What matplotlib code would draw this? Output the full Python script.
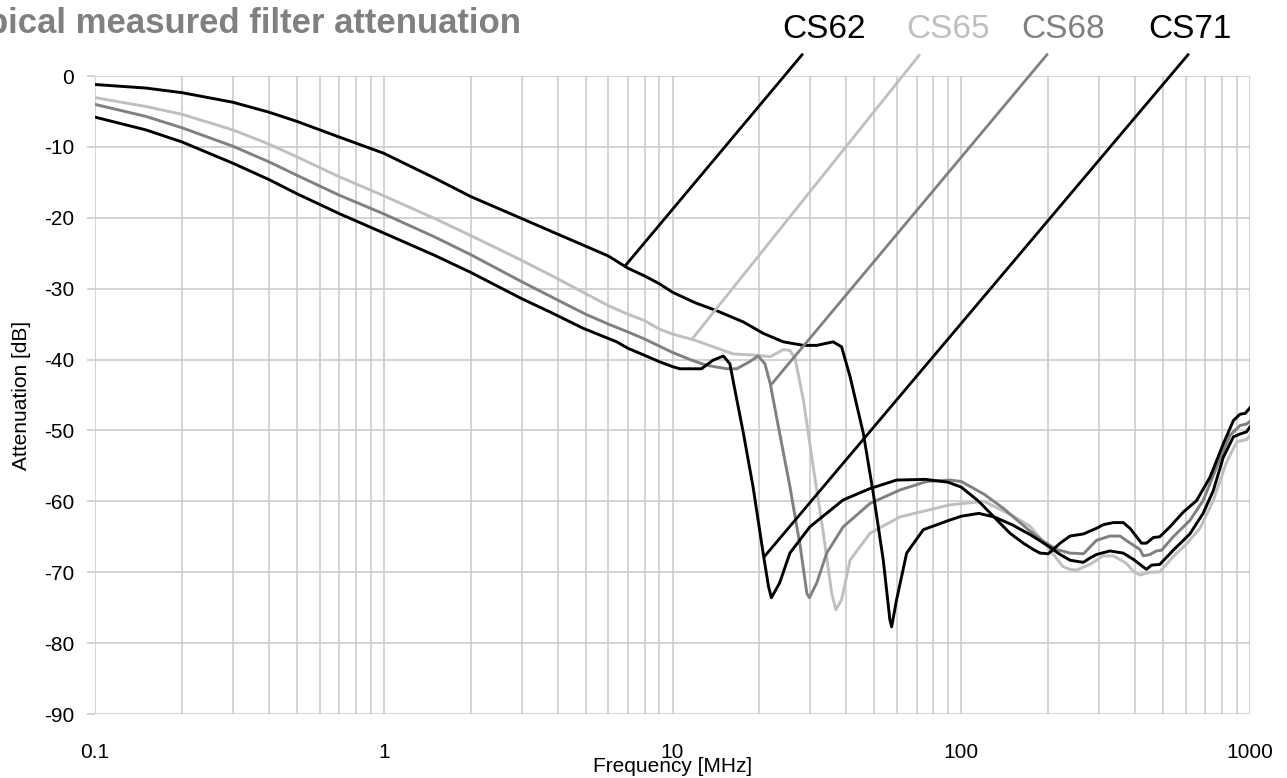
import matplotlib
matplotlib.use("Agg")
import matplotlib.pyplot as plt
from matplotlib.ticker import FixedLocator, FixedFormatter, NullFormatter

plt.rcParams['font.family'] = ['Liberation Sans', 'DejaVu Sans']
plt.rcParams['axes.unicode_minus'] = False

# ---------------- data ----------------
cs62_freq = [0.1, 0.15, 0.2, 0.3, 0.4, 0.5, 0.7, 1, 1.5, 2, 3, 4, 5, 6, 7, 8, 9, 10, 12, 14.2,
             17.6, 20.6, 24.2, 28.4, 31.6, 36, 38.5, 41.2, 45.8, 49.6, 53.7, 56.6, 57.4, 59.7,
             64.7, 73.9, 89, 100, 115, 130, 150, 175, 200, 220, 238, 254, 265, 279, 294, 327,
             364, 395, 438, 456, 487, 542, 619, 688, 746, 808, 876, 924, 973, 1000]
cs62_db = [-1.2, -1.7, -2.35, -3.7, -5.1, -6.4, -8.6, -10.9, -14.4, -17.0, -20.1, -22.3, -24.0,
           -25.4, -27.1, -28.2, -29.3, -30.5, -32.0, -33.1, -34.7, -36.3, -37.5, -38.0, -38.0,
           -37.5, -38.2, -42.4, -50.4, -58.9, -68.3, -76.7, -77.7, -73.9, -67.3, -64.0, -62.8,
           -62.1, -61.7, -62.2, -63.3, -64.8, -66.3, -67.5, -68.3, -68.5, -68.6, -68.0, -67.5,
           -67.0, -67.3, -68.2, -69.6, -69.0, -68.9, -66.9, -64.6, -61.7, -58.5, -53.8, -50.9,
           -50.5, -50.2, -49.5]

cs65_freq = [0.1, 0.15, 0.2, 0.3, 0.4, 0.5, 0.7, 1, 1.5, 2, 3, 4, 5, 6, 7, 8, 9, 10, 12, 16.2,
             19.6, 21.8, 24.2, 25.5, 26.6, 28.4, 30.7, 33.3, 35.6, 36.8, 38.5, 41.2, 48.3, 61.3,
             91.3, 120, 150, 173, 198, 225, 238, 251, 279, 310, 336, 372, 395, 416, 450, 487,
             542, 603, 671, 746, 829, 900, 973, 1000]
cs65_db = [-3.05, -4.3, -5.4, -7.6, -9.6, -11.4, -14.2, -16.9, -20.1, -22.5, -26.0, -28.6, -30.7,
           -32.4, -33.6, -34.5, -35.7, -36.4, -37.3, -39.2, -39.4, -39.6, -38.6, -38.7, -39.9,
           -45.7, -55.1, -64.5, -73.0, -75.3, -73.9, -68.3, -64.5, -62.2, -60.5, -60.0, -62.0,
           -63.5, -66.3, -69.2, -69.6, -69.7, -68.9, -67.7, -67.7, -68.7, -69.9, -70.4, -70.0,
           -69.95, -67.8, -66.0, -63.8, -59.9, -54.5, -51.6, -51.3, -50.7]

cs68_freq = [0.1, 0.15, 0.2, 0.3, 0.4, 0.5, 0.7, 1, 1.5, 2, 3, 4, 5, 6, 7, 8, 9, 10, 11.5, 13.1,
             15.4, 16.7, 18.5, 19.8, 20.9, 21.8, 23.5, 25.5, 27.7, 29.2, 29.8, 31.6, 34.2, 39,
             48.3, 61.3, 75.9, 91.3, 100, 120, 140, 155.6, 173, 192, 214, 238, 265, 294, 327,
             355, 372, 416, 427, 450, 474, 494, 542, 619, 688, 766, 852, 924, 973, 1000]
cs68_db = [-4.0, -5.7, -7.3, -9.9, -12.1, -14.0, -16.8, -19.45, -22.7, -25.2, -29.0, -31.6,
           -33.6, -35.0, -36.1, -37.1, -38.1, -39.0, -40.0, -40.8, -41.3, -41.3, -40.3, -39.5,
           -40.6, -43.4, -50.4, -57.9, -66.4, -73.0, -73.6, -71.5, -67.3, -63.6, -60.3, -58.4,
           -57.2, -57.0, -57.2, -59.0, -61.0, -62.6, -64.2, -65.6, -66.8, -67.3, -67.4, -65.5,
           -64.9, -64.9, -65.5, -66.8, -67.7, -67.5, -67.0, -66.9, -65.0, -62.7, -59.9, -55.2,
           -50.7, -49.3, -49.1, -48.7]

cs71_freq = [0.1, 0.15, 0.2, 0.3, 0.4, 0.5, 0.7, 1, 1.5, 2, 3, 3.77, 4.91, 6.41, 7, 8, 9, 10,
             10.6, 12.6, 13.8, 15.0, 15.8, 16.2, 17.6, 19.0, 20.6, 21.5, 22.0, 23.5, 25.5, 29.9,
             39, 48.3, 59.7, 75, 90, 100, 115, 132.7, 147.5, 164, 177.7, 187.4, 200, 208, 220,
             238, 265, 294, 310, 336, 364, 384, 421, 438, 463, 487, 528, 588, 653, 727, 808,
             876, 924, 962, 1000]
cs71_db = [-5.8, -7.6, -9.3, -12.3, -14.6, -16.6, -19.4, -22.15, -25.3, -27.7, -31.4, -33.3,
           -35.6, -37.5, -38.4, -39.4, -40.3, -41.0, -41.3, -41.3, -40.1, -39.5, -40.6, -42.9,
           -50.4, -57.9, -67.3, -72.0, -73.6, -71.5, -67.3, -63.6, -59.8, -58.2, -57.0, -56.9,
           -57.3, -58.0, -60.0, -62.6, -64.5, -65.9, -66.8, -67.3, -67.4, -66.8, -65.9, -64.9,
           -64.6, -63.8, -63.3, -63.0, -63.0, -63.8, -65.9, -65.9, -65.1, -65.0, -63.6, -61.5,
           -59.9, -56.6, -51.9, -48.6, -47.7, -47.6, -46.8]

series_names = ["CS62", "CS65", "CS68", "CS71"]
series_colors = ["#000000", "#bfbfbf", "#808080", "#000000"]

# label anchor (freq, dB) and leader line (start/end) for each series
label_freq = [33.6, 90.0, 225.0, 620.0]
label_db = [6.5, 6.5, 6.5, 6.5]
leader_top_freq = [28.1, 71.4, 198.0, 610.0]
leader_top_db = [3.0, 2.9, 3.0, 3.0]
leader_end_freq = [6.85, 11.8, 22.0, 20.9]
leader_end_db = [-26.8, -36.9, -43.5, -67.7]

x_ticks = [0.1, 1, 10, 100, 1000]
x_tick_labels = ["0.1", "1", "10", "100", "1000"]
y_ticks = [0, -10, -20, -30, -40, -50, -60, -70, -80, -90]
y_tick_labels = [str(v) for v in y_ticks]

# ---------------- figure ----------------
W, H = 1287, 778
fig = plt.figure(figsize=(W / 100, H / 100), dpi=100)
ax_l, ax_r, ax_t, ax_b = 95, 1250, 76, 714
ax = fig.add_axes([ax_l / W, 1 - ax_b / H, (ax_r - ax_l) / W, (ax_b - ax_t) / H])

grid_c = "#c8c8c8"
ax.set_xscale("log")
ax.set_xlim(0.1, 1000)
ax.set_ylim(-90, 0)

minor = [m * 10.0 ** e for e in range(-1, 3) for m in range(2, 10)]
ax.xaxis.set_major_locator(FixedLocator(x_ticks))
ax.xaxis.set_major_formatter(FixedFormatter(x_tick_labels))
ax.xaxis.set_minor_locator(FixedLocator(minor))
ax.xaxis.set_minor_formatter(NullFormatter())
ax.yaxis.set_major_locator(FixedLocator(y_ticks))
ax.yaxis.set_major_formatter(FixedFormatter(y_tick_labels))

ax.grid(True, which="both", axis="x", color=grid_c, lw=1.1)
ax.grid(True, which="major", axis="y", color=grid_c, lw=1.1)
ax.set_axisbelow(True)
for s in ax.spines.values():
    s.set_visible(False)

ax.tick_params(axis="x", which="both", length=0, pad=21, labelsize=15)
ax.tick_params(axis="y", which="major", length=6, width=1.1, color=grid_c, pad=9, labelsize=15)

series = [(cs62_freq, cs62_db), (cs65_freq, cs65_db), (cs68_freq, cs68_db), (cs71_freq, cs71_db)]
order = [1, 2, 0, 3]
for i in order:
    f, d = series[i]
    ax.plot(f, d, color=series_colors[i], lw=2.1, solid_joinstyle="round", zorder=3)

for i in range(4):
    ax.plot([leader_top_freq[i], leader_end_freq[i]], [leader_top_db[i], leader_end_db[i]],
            color=series_colors[i], lw=2.0, clip_on=False, zorder=4)
    ax.text(label_freq[i], label_db[i], series_names[i], color=series_colors[i],
            fontsize=24, ha="center", va="center", clip_on=False)

ax.set_xlabel("Frequency [MHz]", fontsize=15, va="center")
ax.xaxis.set_label_coords(0.5, -(766 - ax_b) / (ax_b - ax_t))
ax.set_ylabel("Attenuation [dB]", fontsize=15, va="center")
ax.yaxis.set_label_coords(-(ax_l - 22) / (ax_r - ax_l), 0.5)

fig.text(521 / W, 1 - 24 / H, "Typical measured filter attenuation", fontsize=25,
         fontweight="bold", color="#808080", ha="right", va="center")

fig.savefig("out.png", dpi=100)
